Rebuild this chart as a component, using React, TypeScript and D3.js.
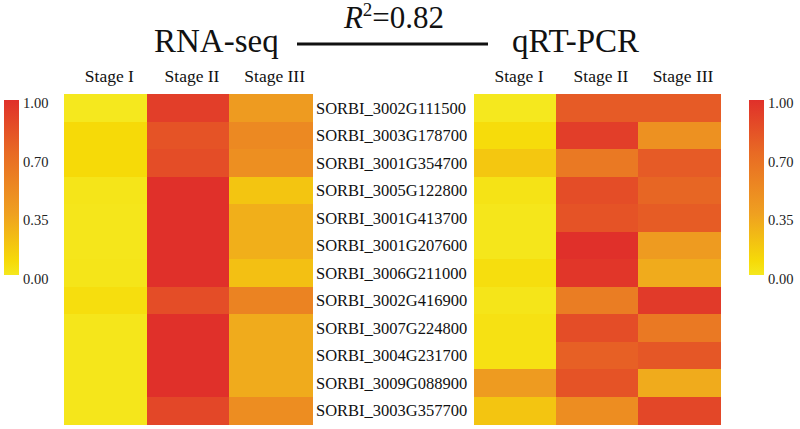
import React from "react";
import * as d3 from "d3";

const stages = ["Stage I", "Stage II", "Stage III"];
const genes = [
  "SORBI_3002G111500",
  "SORBI_3003G178700",
  "SORBI_3001G354700",
  "SORBI_3005G122800",
  "SORBI_3001G413700",
  "SORBI_3001G207600",
  "SORBI_3006G211000",
  "SORBI_3002G416900",
  "SORBI_3007G224800",
  "SORBI_3004G231700",
  "SORBI_3009G088900",
  "SORBI_3003G357700",
];
// RNA-seq normalized values [Stage I, Stage II, Stage III]
const rnaSeq = [
  [0.0, 0.93, 0.38],
  [0.08, 0.82, 0.5],
  [0.08, 0.85, 0.46],
  [0.02, 1.0, 0.18],
  [0.01, 1.0, 0.28],
  [0.01, 1.0, 0.28],
  [0.02, 1.0, 0.2],
  [0.06, 0.85, 0.54],
  [0.01, 1.0, 0.3],
  [0.01, 1.0, 0.3],
  [0.01, 1.0, 0.3],
  [0.01, 0.88, 0.47],
];
// qRT-PCR normalized values
const qrtPcr = [
  [0.0, 0.78, 0.78],
  [0.07, 0.93, 0.45],
  [0.17, 0.6, 0.78],
  [0.03, 0.85, 0.72],
  [0.01, 0.82, 0.77],
  [0.01, 1.0, 0.38],
  [0.06, 0.97, 0.3],
  [0.02, 0.58, 0.95],
  [0.04, 0.85, 0.6],
  [0.04, 0.75, 0.8],
  [0.38, 0.82, 0.3],
  [0.18, 0.47, 0.88],
];
const legendTicks = ["1.00", "0.70", "0.35", "0.00"];
const colorStops = [0, 0.08, 0.35, 0.7, 1];
const colorRange = ["#f5e81e", "#f6da08", "#efa020", "#e86a24", "#e0302a"];
const titleLeft = "RNA-seq";
const titleRight = "qRT-PCR";
const rSquared = "0.82";

const W = 800;
const H = 429;
const serifFont = '"Liberation Serif", "Times New Roman", Times, "DejaVu Serif", serif';
const serif: React.CSSProperties = { fontFamily: serifFont };

const color = d3.scaleLinear<string>().domain(colorStops).range(colorRange).interpolate(d3.interpolateRgb);

const y = d3.scaleBand<string>().domain(genes).range([94, 424]).padding(0);
const xLeft = d3.scaleBand<string>().domain(stages).range([64, 312]).padding(0);
const xRight = d3.scaleBand<string>().domain(stages).range([474, 720]).padding(0);

function Heatmap({ data, x }: { data: number[][]; x: d3.ScaleBand<string> }) {
  return (
    <g>
      {data.map((row, i) =>
        row.map((v, j) => (
          <rect
            key={`${i}-${j}`}
            x={x(stages[j])}
            y={y(genes[i])}
            width={x.bandwidth() + 0.5}
            height={y.bandwidth() + 0.5}
            fill={color(v)}
            shapeRendering="crispEdges"
          />
        ))
      )}
      {stages.map((s) => (
        <text
          key={s}
          x={(x(s) as number) + x.bandwidth() / 2 + 4}
          y={82}
          textAnchor="middle"
          style={serif}
          fontSize={17.5}
          fill="#111"
        >
          {s}
        </text>
      ))}
    </g>
  );
}

function Legend({ x0, id }: { x0: number; id: string }) {
  const top = 100;
  const bottom = 275;
  const ly = d3.scalePoint<string>().domain(legendTicks).range([103, 279]);
  return (
    <g>
      <defs>
        <linearGradient id={id} x1="0" y1="1" x2="0" y2="0">
          {colorStops.map((s, i) => (
            <stop key={i} offset={`${s * 100}%`} stopColor={colorRange[i]} />
          ))}
        </linearGradient>
      </defs>
      <rect x={x0} y={top} width={15} height={bottom - top} fill={`url(#${id})`} />
      {legendTicks.map((t) => (
        <text
          key={t}
          x={x0 + 19}
          y={(ly(t) as number) + 5}
          style={serif}
          fontSize={14.5}
          fill="#222"
        >
          {t}
        </text>
      ))}
    </g>
  );
}

export default function App() {
  return (
    <svg
      width={W}
      height={H}
      style={{ position: "absolute", left: 0, top: 0, background: "#fff" }}
    >
      <rect width={W} height={H} fill="#fff" />
      <text x={154} y={52} style={serif} fontSize={33} fill="#111">
        {titleLeft}
      </text>
      <text x={512} y={52} style={serif} fontSize={33} fill="#111">
        {titleRight}
      </text>
      <line x1={297} x2={488} y1={44} y2={44} stroke="#111" strokeWidth={3} />
      <text x={394} y={28} textAnchor="middle" style={serif} fontSize={31} fill="#111">
        <tspan fontStyle="italic">R</tspan>
        <tspan fontSize={19} dy={-12}>2</tspan>
        <tspan dy={12}>{`=${rSquared}`}</tspan>
      </text>
      <Heatmap data={rnaSeq} x={xLeft} />
      <Heatmap data={qrtPcr} x={xRight} />
      {genes.map((g) => (
        <text
          key={g}
          x={316}
          y={(y(g) as number) + y.bandwidth() / 2 + 6}
          style={serif}
          fontSize={16.5}
          fill="#111"
        >
          {g}
        </text>
      ))}
      <Legend x0={4} id="legL" />
      <Legend x0={749} id="legR" />
    </svg>
  );
}
